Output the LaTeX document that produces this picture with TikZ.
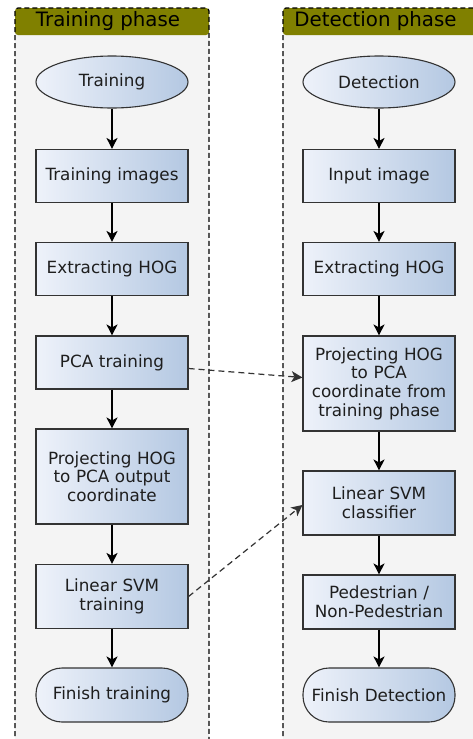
\documentclass[tikz,border=0pt]{standalone}
\usepackage{fontspec}
\setmainfont{DejaVu Sans}
\usetikzlibrary{arrows.meta,shapes.geometric}
\definecolor{lanegray}{HTML}{F4F4F4}
\definecolor{headolive}{HTML}{808000}
\definecolor{gradL}{HTML}{EEF2FA}
\definecolor{gradR}{HTML}{B4C8E2}
\definecolor{boxborder}{HTML}{333333}
\definecolor{txt}{HTML}{1E1E1E}
\newcommand\myNodeFont{\fontsize{16.8}{18.6}\selectfont}
\newcommand\myHeadFont{\fontsize{19.8}{22}\selectfont}
\tikzset{
  lanebody/.style={fill=lanegray},
  lanehead/.style={fill=headolive},
  laneline/.style={draw=black, line width=1.2pt, dash pattern=on 5pt off 3pt},
  proc/.style={draw=boxborder, line width=1.1pt, left color=gradL, right color=gradR,
    text width=148pt, inner sep=2pt, align=center, font=\myNodeFont, text=txt},
  startnode/.style={ellipse, draw=boxborder, line width=1.1pt, left color=gradL, right color=gradR,
    minimum width=152pt, minimum height=52pt, inner sep=0pt, font=\myNodeFont, text=txt},
  endnode/.style={rectangle, rounded corners=26pt, draw=boxborder, line width=1.1pt, left color=gradL, right color=gradR,
    minimum width=152pt, minimum height=54pt, inner sep=0pt, font=\myNodeFont, text=txt},
  flow/.style={-{Stealth[length=11pt,width=11pt,inset=3pt]}, line width=1.2pt, black},
  dataflow/.style={-{Stealth[length=11pt,width=11pt,inset=3pt]}, line width=1.2pt, draw=boxborder, dash pattern=on 6pt off 4pt},
  headtext/.style={font=\myHeadFont, text=black, inner sep=0pt}
}
\begin{document}
\begin{tikzpicture}[x=1pt,y=-1pt]
\useasboundingbox (0,0) rectangle (473,739);
\clip (0,0) rectangle (473,739);
\fill[white] (0,0) rectangle (473,739);
% lanes
\fill[lanebody] (15,8) rectangle (209,760);
\fill[lanehead, rounded corners=3pt] (15,35) -- (15,8) -- (209,8) -- (209,35) -- cycle;
\draw[laneline, rounded corners=3pt] (15,760) -- (15,8) -- (209,8) -- (209,760);
\node[headtext] (h1) at (108,21.5) {Training phase};
\fill[lanebody] (283,8) rectangle (478,760);
\fill[lanehead, rounded corners=3pt] (283,35) -- (283,8) -- (478,8) -- (478,35) -- cycle;
\draw[laneline, rounded corners=3pt] (283,760) -- (283,8) -- (478,8) -- (478,760);
\node[headtext] (h2) at (375.5,21.5) {Detection phase};
% left column
\node[startnode] (t0) at (112,82) {Training};
\node[proc, minimum height=53pt] (t1) at (112,176) {Training images};
\node[proc, minimum height=53pt] (t2) at (112,269) {Extracting HOG};
\node[proc, minimum height=53pt] (t3) at (112,362.5) {PCA training};
\node[proc, minimum height=95pt] (t4) at (112,476.5) {Projecting HOG\\to PCA output\\coordinate};
\node[proc, minimum height=64pt] (t5) at (112,596.5) {Linear SVM\\training};
\node[endnode] (t6) at (112,695) {Finish training};
% right column
\node[startnode] (d0) at (379,82) {Detection};
\node[proc, minimum height=53pt] (d1) at (379,176) {Input image};
\node[proc, minimum height=53pt] (d2) at (379,269) {Extracting HOG};
\node[proc, minimum height=95pt] (d3) at (379,383.5) {Projecting HOG\\to PCA\\coordinate from\\training phase};
\node[proc, minimum height=64pt] (d4) at (379,503) {Linear SVM\\classifier};
\node[proc, minimum height=54pt] (d5) at (379,602) {Pedestrian /\\Non-Pedestrian};
\node[endnode] (d6) at (379,695) {Finish Detection};
% arrows
\draw[flow] (t0) -- (t1);
\draw[flow] (t1) -- (t2);
\draw[flow] (t2) -- (t3);
\draw[flow] (t3) -- (t4);
\draw[flow] (t4) -- (t5);
\draw[flow] (t5) -- (t6);
\draw[flow] (d0) -- (d1);
\draw[flow] (d1) -- (d2);
\draw[flow] (d2) -- (d3);
\draw[flow] (d3) -- (d4);
\draw[flow] (d4) -- (d5);
\draw[flow] (d5) -- (d6);
\draw[dataflow] ([yshift=-6pt]t3.east) -- ([yshift=6pt]d3.west);
\draw[dataflow] (t5.east) -- ([yshift=-2pt]d4.west);
\end{tikzpicture}
\end{document}
